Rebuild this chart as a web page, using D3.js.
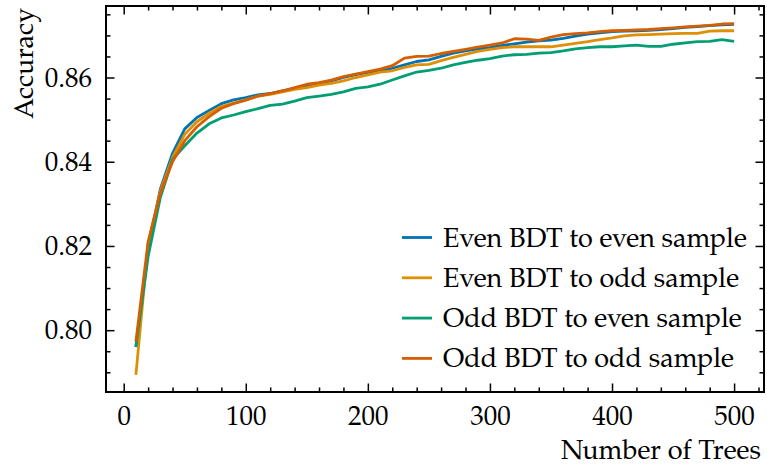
<!DOCTYPE html>
<html><head><meta charset="utf-8">
<script src="https://cdn.jsdelivr.net/npm/d3@7"></script>
<style>body{margin:0;background:#fff}svg{display:block}text{font-family:"Palatino Linotype",Palatino,"TeX Gyre Pagella","Liberation Serif",serif;fill:#000}</style>
</head><body><svg id="c" width="767" height="468"></svg>
<script>
const trees = [10,20,30,40,50,60,70,80,90,100,110,120,130,140,150,160,170,180,190,200,210,220,230,240,250,260,270,280,290,300,310,320,330,340,350,360,370,380,390,400,410,420,430,440,450,460,470,480,490,500];
const evenToEven = [0.7960,0.8195,0.8335,0.8420,0.8478,0.8505,0.8522,0.8538,0.8547,0.8552,0.8559,0.8562,0.8568,0.8574,0.8580,0.8586,0.8592,0.8600,0.8607,0.8612,0.8615,0.8622,0.8630,0.8638,0.8642,0.8650,0.8658,0.8663,0.8668,0.8671,0.8676,0.8680,0.8684,0.8687,0.8689,0.8693,0.8698,0.8703,0.8706,0.8709,0.8710,0.8711,0.8712,0.8714,0.8716,0.8719,0.8721,0.8723,0.8725,0.8726];
const evenToOdd = [0.7894,0.8205,0.8330,0.8410,0.8465,0.8495,0.8515,0.8531,0.8539,0.8547,0.8556,0.8560,0.8566,0.8572,0.8576,0.8582,0.8586,0.8592,0.8600,0.8606,0.8613,0.8616,0.8624,0.8630,0.8631,0.8640,0.8648,0.8655,0.8662,0.8667,0.8671,0.8673,0.8673,0.8673,0.8673,0.8677,0.8681,0.8685,0.8690,0.8694,0.8699,0.8701,0.8702,0.8703,0.8704,0.8705,0.8705,0.8710,0.8711,0.8711];
const oddToEven = [0.7961,0.8175,0.8315,0.8405,0.8438,0.8468,0.8490,0.8504,0.8511,0.8519,0.8526,0.8534,0.8537,0.8544,0.8552,0.8556,0.8560,0.8566,0.8574,0.8578,0.8584,0.8594,0.8604,0.8613,0.8617,0.8622,0.8630,0.8636,0.8641,0.8645,0.8651,0.8654,0.8655,0.8658,0.8659,0.8663,0.8668,0.8671,0.8673,0.8673,0.8675,0.8677,0.8674,0.8674,0.8679,0.8682,0.8685,0.8686,0.8690,0.8686];
const oddToOdd = [0.7973,0.8210,0.8325,0.8400,0.8450,0.8483,0.8507,0.8527,0.8538,0.8546,0.8556,0.8562,0.8568,0.8576,0.8584,0.8588,0.8594,0.8602,0.8608,0.8614,0.8620,0.8628,0.8646,0.8650,0.8651,0.8657,0.8662,0.8667,0.8672,0.8677,0.8682,0.8692,0.8691,0.8688,0.8696,0.8702,0.8704,0.8706,0.8709,0.8711,0.8712,0.8713,0.8714,0.8716,0.8718,0.8720,0.8722,0.8724,0.8727,0.8728];
const seriesNames = ["Even BDT to even sample","Even BDT to odd sample","Odd BDT to even sample","Odd BDT to odd sample"];
const seriesColors = ["#0173B2","#DE8F05","#029E73","#D55E00"];
const xTicks = [0,100,200,300,400,500];
const yTicks = [0.80,0.82,0.84,0.86];
const xLabel = "Number of Trees";
const yLabel = "Accuracy";

const seriesValues = [evenToEven, evenToOdd, oddToEven, oddToOdd];
const L = 106, R = 764, T = 6, B = 392;
const x = d3.scaleLinear().domain([-14.5, 524.5]).range([L, R]);
const y = d3.scaleLinear().domain([0.78532, 0.87698]).range([B, T]);
const svg = d3.select("#c");
const FS = 27;

// lines
const line = d3.line().x((d,i)=>x(trees[i])).y(d=>y(d));
const g = svg.append("g");
seriesValues.forEach((vals, k) => {
  g.append("path").datum(vals).attr("d", line).attr("fill","none")
    .attr("stroke", seriesColors[k]).attr("stroke-width", 2.8).attr("stroke-linejoin","round");
});

// ticks
const xMinor = d3.range(0, 521, 20).filter(v => v % 100 !== 0);
const yMinor = d3.range(0, 19).map(i => +(0.785 + i*0.005).toFixed(3)).filter(v => v >= 0.78532 && v <= 0.87698 && Math.abs(v*100 - Math.round(v*50)*2) > 1e-6);
function addAxis(axisFn, scale, tickVals, size, transform, fmt, showLabels){
  const a = axisFn(scale).tickValues(tickVals).tickSizeInner(-size).tickSizeOuter(0).tickPadding(14);
  if (fmt) a.tickFormat(fmt);
  const ax = svg.append("g").attr("transform", transform).call(a);
  ax.select(".domain").remove();
  ax.selectAll("line").attr("stroke","#000").attr("stroke-width",1.5);
  if (showLabels) ax.selectAll("text").attr("font-size", FS).style("font-family", null);
  else ax.selectAll("text").remove();
  return ax;
}
addAxis(d3.axisBottom, x, xTicks, 8.5, `translate(0,${B})`, d3.format("d"), true);
addAxis(d3.axisBottom, x, xMinor, 4.5, `translate(0,${B})`, null, false);
addAxis(d3.axisTop, x, xTicks, 8.5, `translate(0,${T})`, null, false);
addAxis(d3.axisTop, x, xMinor, 4.5, `translate(0,${T})`, null, false);
addAxis(d3.axisLeft, y, yTicks, 8.5, `translate(${L},0)`, d3.format(".2f"), true);
addAxis(d3.axisLeft, y, yMinor, 4.5, `translate(${L},0)`, null, false);
addAxis(d3.axisRight, y, yTicks, 8.5, `translate(${R},0)`, null, false);
addAxis(d3.axisRight, y, yMinor, 4.5, `translate(${R},0)`, null, false);

svg.append("rect").attr("x",L).attr("y",T).attr("width",R-L).attr("height",B-T)
  .attr("fill","none").attr("stroke","#000").attr("stroke-width",2);

// axis labels
svg.append("text").attr("x", 761).attr("y", 459).attr("text-anchor","end").attr("font-size", FS).text(xLabel);
svg.append("text").attr("transform","translate(33,8) rotate(-90)").attr("text-anchor","end").attr("font-size", FS).text(yLabel);

// legend
const lg = svg.append("g");
seriesNames.forEach((n,k) => {
  const cy = 237.5 + k*40.3;
  lg.append("line").attr("x1",402).attr("x2",432).attr("y1",cy).attr("y2",cy)
    .attr("stroke", seriesColors[k]).attr("stroke-width",2.8);
  lg.append("text").attr("x",443).attr("y",cy+9).attr("font-size",FS).text(n);
});
</script></body></html>
